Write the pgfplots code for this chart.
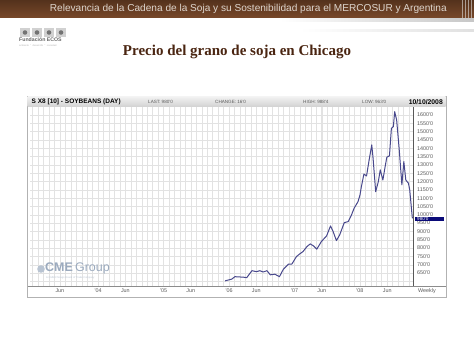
\documentclass[border=0pt]{standalone}
\usepackage{fontspec}
\setmainfont{Liberation Sans}
\newfontfamily\serifb{Liberation Serif}
\usepackage{pgfplots}
\pgfplotsset{compat=1.18}
\definecolor{hdrtop}{RGB}{84,50,28}
\definecolor{hdrbot}{RGB}{120,72,42}
\definecolor{hdrtext}{RGB}{222,214,206}
\definecolor{titlec}{RGB}{74,37,17}
\definecolor{linec}{RGB}{72,72,140}
\definecolor{gridc}{RGB}{226,226,226}
\definecolor{labc}{RGB}{90,90,90}
\definecolor{cmec}{RGB}{155,170,190}
\definecolor{navybox}{RGB}{10,10,120}
\begin{document}
\begin{tikzpicture}[x=1pt,y=1pt]
\useasboundingbox (0,0) rectangle (474,355);
\fill[white] (0,0) rectangle (474,355);
% header bar
\shade[top color=hdrtop, bottom color=hdrbot] (0,337) rectangle (474,355);
\foreach \xx in {462,465,468,471}{\fill[white!75!gray,opacity=0.6] (\xx,335) rectangle (\xx+1.2,355);}
\node[anchor=east, text=hdrtext, font=\fontsize{10.1}{11}\selectfont, inner sep=0pt] at (447,346)
  {Relevancia de la Cadena de la Soja y su Sostenibilidad para el MERCOSUR y Argentina};
\shade[left color=white, right color=black!22] (280,333) rectangle (474,336);
\shade[left color=white, right color=black!12] (300,323) rectangle (474,325);
% logo
\foreach \xx in {20,32,44,56}{\fill[black!18] (\xx,318) rectangle (\xx+10,327); \fill[black!55] (\xx+5,322.5) circle (2.3);}
\node[anchor=west, text=black!60, font=\fontsize{5.2}{6}\selectfont\bfseries, inner sep=0pt] at (19,315.5) {Fundación ECOS};
\node[anchor=west, text=black!30, font=\fontsize{2.4}{3}\selectfont, inner sep=0pt] at (19,310) {ambiente $\cdot$ desarrollo $\cdot$ sociedad};
% title
\node[text=titlec, font=\serifb\bfseries\fontsize{15}{18}\selectfont, inner sep=0pt] at (237,303)
  {Precio del grano de soja en Chicago};
% chart frame
\draw[black!30] (27,58) rectangle (446,259);
\shade[top color=black!5, bottom color=black!18] (27.5,248) rectangle (445.5,258.5);
\node[anchor=west, font=\fontsize{6.5}{7}\selectfont\bfseries, inner sep=0pt] at (31.5,253.3) {S X8 [10] - SOYBEANS (DAY)};
\node[anchor=west, text=labc, font=\fontsize{4.6}{5}\selectfont, inner sep=0pt] at (148,253.3) {LAST: 980\textquotesingle 0};
\node[anchor=west, text=labc, font=\fontsize{4.6}{5}\selectfont, inner sep=0pt] at (215,253.3) {CHANGE: 16\textquotesingle 0};
\node[anchor=west, text=labc, font=\fontsize{4.6}{5}\selectfont, inner sep=0pt] at (303,253.3) {HIGH: 988\textquotesingle 4};
\node[anchor=west, text=labc, font=\fontsize{4.6}{5}\selectfont, inner sep=0pt] at (362,253.3) {LOW: 963\textquotesingle 0};
\node[anchor=east, font=\fontsize{6.8}{7}\selectfont\bfseries, inner sep=0pt] at (443,253.3) {10/10/2008};
\begin{axis}[
  at={(30pt,69pt)}, anchor=south west,
  width=383pt, height=179pt, scale only axis,
  xmin=2002.96, xmax=2008.81, ymin=572, ymax=1648,
  axis line style={draw=none},
  major tick length=0pt, minor tick length=0pt,
  xtick={2003.41667,2004,2004.41667,2005,2005.41667,2006,2006.41667,2007,2007.41667,2008,2008.41667},
  xticklabels={Jun,\textquotesingle 04,Jun,\textquotesingle 05,Jun,\textquotesingle 06,Jun,\textquotesingle 07,Jun,\textquotesingle 08,Jun},
  minor xtick={2003,2003.08333,...,2008.8},
  ytick={650,700,...,1600},
  minor ytick={600},
  yticklabel pos=right,
  yticklabel={\pgfmathparse{int(round(\tick))}\pgfmathresult\textquotesingle 0},
  yticklabel style={font=\fontsize{5.4}{6}\selectfont, text=labc, inner sep=0pt, xshift=4pt},
  xticklabel style={font=\fontsize{5.4}{6}\selectfont, text=labc, inner sep=0pt, yshift=-3pt},
  grid=both,
  major grid style={gridc, line width=0.35pt},
  minor grid style={gridc, line width=0.35pt},
  clip=true,
]
\addplot[linec, line width=1pt, line join=round] coordinates {
(2005.94,603) (2006.04,613) (2006.09,628) (2006.22,625) (2006.27,622)
(2006.35,664) (2006.42,658) (2006.47,664) (2006.52,656) (2006.58,664)
(2006.63,639) (2006.70,643) (2006.77,628) (2006.83,673) (2006.91,704)
(2006.96,704) (2007.03,749) (2007.08,765) (2007.13,779) (2007.19,809)
(2007.24,825) (2007.29,813) (2007.34,793) (2007.41,839) (2007.49,873)
(2007.55,933) (2007.59,899) (2007.64,845) (2007.69,879) (2007.76,953)
(2007.82,959) (2007.87,999) (2007.91,1039) (2007.97,1079) (2008.00,1119)
(2008.02,1166) (2008.06,1245) (2008.10,1233) (2008.14,1330) (2008.18,1420)
(2008.20,1340) (2008.24,1139) (2008.28,1199) (2008.31,1270) (2008.35,1209)
(2008.38,1280) (2008.41,1346) (2008.45,1354) (2008.48,1520) (2008.51,1530)
(2008.53,1620) (2008.56,1570) (2008.60,1390) (2008.64,1180) (2008.67,1320)
(2008.70,1209) (2008.74,1190) (2008.76,1149) (2008.80,979)
};
\end{axis}
% axis lines
\draw[black!45] (27.5,69) -- (445.5,69);
\draw[black!65] (413,69) -- (413,248);
% highlighted last value
\fill[navybox] (414.5,134) rectangle (443.5,138);
\node[anchor=west, text=white, font=\fontsize{4.6}{5}\selectfont, inner sep=0pt] at (417,136) {980\textquotesingle 0};
\node[text=labc, font=\fontsize{5.4}{6}\selectfont, inner sep=0pt] at (427,64) {Weekly};
% CME logo
\fill[cmec!70] (41,86) circle (3.8);
\node[anchor=west, text=cmec, font=\fontsize{12.5}{13}\selectfont, inner sep=0pt] at (45,86.5) {\textbf{CME}\,Group};
\node[anchor=west, text=cmec!70, font=\fontsize{2.6}{3}\selectfont, inner sep=0pt] at (46,77.5) {A CME/Chicago Board of Trade Company};
\end{tikzpicture}
\end{document}
